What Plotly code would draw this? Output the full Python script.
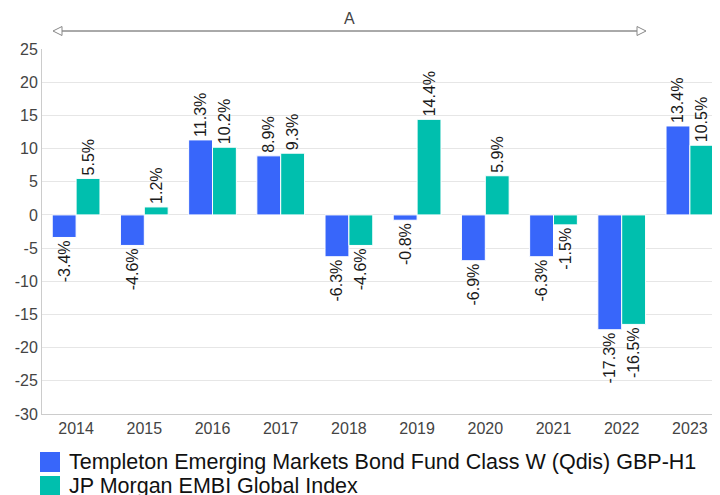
import plotly.graph_objects as go

years = ["2014", "2015", "2016", "2017", "2018", "2019", "2020", "2021", "2022", "2023"]
fund = [-3.4, -4.6, 11.3, 8.9, -6.3, -0.8, -6.9, -6.3, -17.3, 13.4]
index = [5.5, 1.2, 10.2, 9.3, -4.6, 14.4, 5.9, -1.5, -16.5, 10.5]
names = ["Templeton Emerging Markets Bond Fund Class W (Qdis) GBP-H1", "JP Morgan EMBI Global Index"]
colors = ["#3866fa", "#00bfae"]
yticks = [25, 20, 15, 10, 5, 0, -5, -10, -15, -20, -25, -30]

# page body has an 8px margin; figure sized/placed to compensate
OFF = 8
W, H = 716, 487
ml, mr, mt, mb = 34, 0, 41, 81
PW, PH = W - ml - mr, H - mt - mb

def fx(sx):
    return (sx - OFF - ml) / PW

def fy(sy):
    return 1 - (sy - OFF - mt) / PH

fig = go.Figure()
for vals, nm, col in zip([fund, index], names, colors):
    fig.add_trace(go.Bar(
        x=years, y=vals, name=nm, marker=dict(color=col, line=dict(color="white", width=1)),
        text=[f"{v:.1f}%" for v in vals], textposition="outside", textangle=-90,
        textfont=dict(size=16, color="#1a1a1a", family="Liberation Sans, Arial"),
        cliponaxis=False, showlegend=False, hoverinfo="skip"))

ay = 31
x0, x1 = 53, 646
shapes = [
    dict(type="line", xref="paper", yref="paper", x0=fx(x0 + 8), x1=fx(x1 - 8), y0=fy(ay), y1=fy(ay),
         line=dict(color="#555", width=1)),
    dict(type="path", xref="paper", yref="paper",
         path=f"M {fx(x0)} {fy(ay)} L {fx(x0 + 9)} {fy(ay - 4.5)} L {fx(x0 + 9)} {fy(ay + 4.5)} Z",
         line=dict(color="#888", width=1), fillcolor="white"),
    dict(type="path", xref="paper", yref="paper",
         path=f"M {fx(x1)} {fy(ay)} L {fx(x1 - 9)} {fy(ay - 4.5)} L {fx(x1 - 9)} {fy(ay + 4.5)} Z",
         line=dict(color="#888", width=1), fillcolor="white"),
]

annotations = [dict(text="A", xref="paper", yref="paper", x=fx(349), y=fy(18),
                    xanchor="center", yanchor="middle",
                    showarrow=False, font=dict(size=16, color="#444"))]

# legend drawn manually (large square swatches, tight rows)
leg_y = [462, 486]
for nm, col, cy in zip(names, colors, leg_y):
    shapes.append(dict(type="rect", xref="paper", yref="paper",
                       x0=fx(40), x1=fx(60), y0=fy(cy - 10), y1=fy(cy + 10),
                       fillcolor=col, line=dict(width=0)))
    annotations.append(dict(text=nm, xref="paper", yref="paper", x=fx(67), y=fy(cy),
                            xanchor="left", yanchor="middle", showarrow=False,
                            font=dict(size=21.5, color="#111")))

fig.update_layout(
    width=W, height=H,
    margin=dict(l=ml, r=mr, t=mt, b=mb, autoexpand=False),
    plot_bgcolor="white", paper_bgcolor="white",
    barmode="group", bargap=0.3, bargroupgap=0.0,
    uniformtext=dict(minsize=16, mode="show"),
    font=dict(family="Liberation Sans, Arial", color="#333"),
    shapes=shapes,
    annotations=annotations,
    showlegend=False,
    xaxis=dict(showgrid=False, showline=True, linecolor="#ccc", linewidth=1,
               tickfont=dict(size=16, color="#444"), ticks=""),
    yaxis=dict(range=[-30, 25], tickvals=yticks, ticktext=[str(t) for t in yticks],
               showgrid=True, gridcolor="#e6e6e6",
               showline=True, linecolor="#ccc", linewidth=1, zeroline=False,
               tickfont=dict(size=16, color="#444"), ticks="outside", ticklen=0),
)

fig.write_html("out.html")
